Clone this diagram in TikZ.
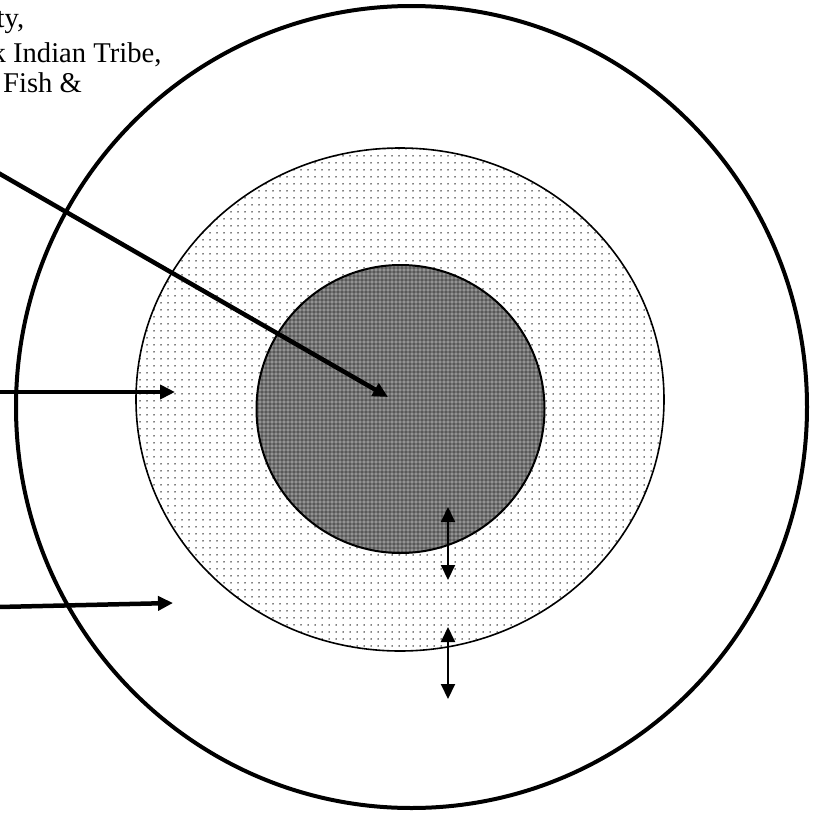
\documentclass[tikz,border=0pt]{standalone}
\usepackage{fontspec}
\setmainfont{Liberation Serif}
\usetikzlibrary{arrows.meta,shapes.geometric,patterns}
\pgfdeclarepatternformonly{sparsedots}{\pgfqpoint{-1pt}{-1pt}}{\pgfqpoint{1pt}{1pt}}{\pgfqpoint{7pt}{7pt}}{%
  \pgfpathcircle{\pgfpointorigin}{0.75pt}\pgfusepath{fill}}
\pgfdeclarepatternformonly{finedots}{\pgfqpoint{-1pt}{-1pt}}{\pgfqpoint{1pt}{1pt}}{\pgfqpoint{4pt}{4pt}}{%
  \pgfpathcircle{\pgfpointorigin}{0.6pt}\pgfusepath{fill}}
\pgfdeclarepatternformonly{offdots}{\pgfqpoint{-1pt}{-1pt}}{\pgfqpoint{3pt}{3pt}}{\pgfqpoint{4pt}{4pt}}{%
  \pgfpathcircle{\pgfqpoint{2pt}{2pt}}{0.7pt}\pgfusepath{fill}}
\tikzset{
  ring/.style={ellipse, inner sep=0pt, outer sep=0pt},
  bigarrow/.style={line width=4.5pt, -{Triangle[length=15pt,width=14pt]}},
  twoway/.style={line width=2pt, {Triangle[length=15pt,width=14pt]}-{Triangle[length=15pt,width=14pt]}},
  label/.style={anchor=base west, inner sep=0pt, font=\fontsize{28.6}{32}\selectfont}
}
\begin{document}
\begin{tikzpicture}[x=1pt,y=-1pt]
\useasboundingbox (0,0) rectangle (817,814);
\clip (0,0) rectangle (817,814);
\fill[white] (0,0) rectangle (817,814);
% circles
\node[ring, draw, line width=4pt, minimum width=791pt, minimum height=802pt] (outer) at (411.5,407) {};
\node[ring, draw, line width=1.6pt, minimum width=528pt, minimum height=503pt,
      preaction={fill=white}, pattern=sparsedots, pattern color=black] (middle) at (400,399.5) {};
\node[ring, draw, line width=2pt, minimum width=288pt, minimum height=288pt,
      preaction={fill=black!55}, preaction={pattern=offdots, pattern color=black},
      pattern=finedots, pattern color=white] (inner) at (400.5,409) {};
% text
\node[label] (t1) at (-3.5,27) {ty,};
\node[label] (t2) at (-8.5,62) {k Indian Tribe,};
\node[label] (t3) at (3,92) {Fish \&};
% arrow ends
\coordinate (d0) at (-10,168.2);
\coordinate (d1) at (388,397);
\coordinate (a0) at (-10,392);
\coordinate (a1) at (175,392);
\coordinate (b0) at (-10,607.2);
\coordinate (b1) at (173,603);
\coordinate (u0) at (448,507);
\coordinate (u1) at (448,580);
\coordinate (v0) at (448,627);
\coordinate (v1) at (448,699);
\draw[bigarrow] (d0) -- (d1);
\draw[bigarrow] (a0) -- (a1);
\draw[bigarrow] (b0) -- (b1);
\draw[twoway] (u0) -- (u1);
\draw[twoway] (v0) -- (v1);
\end{tikzpicture}
\end{document}
